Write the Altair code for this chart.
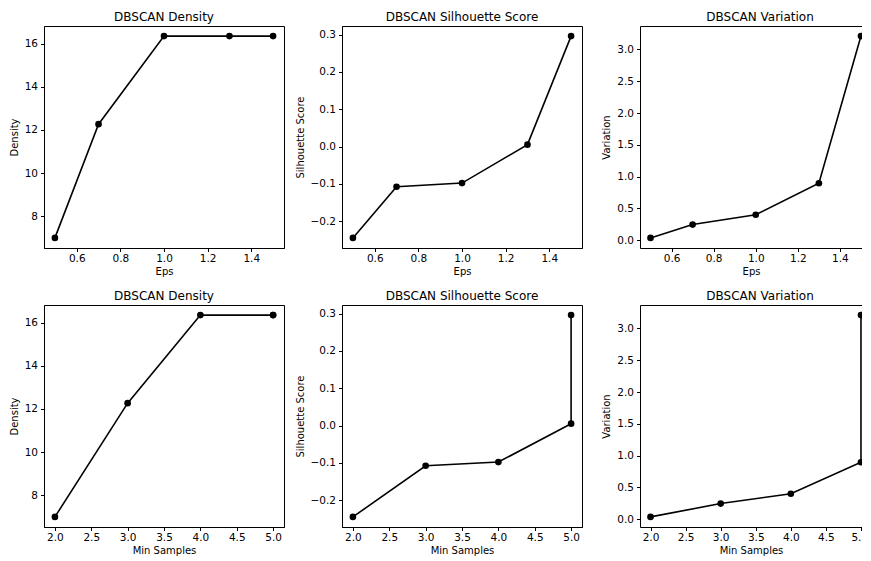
import altair as alt
import pandas as pd

eps = [0.5, 0.7, 1.0, 1.3, 1.5]
min_samples = [2, 3, 4, 5, 5]
density = [7.0, 12.27, 16.35, 16.35, 16.35]
silhouette = [-0.245, -0.108, -0.098, 0.005, 0.296]
variation = [0.035, 0.245, 0.40, 0.895, 3.21]

eps_ticks = [0.6, 0.8, 1.0, 1.2, 1.4]
ms_ticks = [2.0, 2.5, 3.0, 3.5, 4.0, 4.5, 5.0]
density_ticks = [8, 10, 12, 14, 16]
sil_ticks = [-0.2, -0.1, 0.0, 0.1, 0.2, 0.3]
var_ticks = [0.0, 0.5, 1.0, 1.5, 2.0, 2.5, 3.0]

FONT = "DejaVu Sans"
W, H = 240, 222
W_CUT = 222      # right column is cut by the page edge in the reference
CUT_FRAC = 0.959  # share of the padded x-range that stays visible there


def pad_domain(vals, frac=0.05):
    lo, hi = min(vals), max(vals)
    d = (hi - lo) * frac
    return [lo - d, hi + d]


def panel(xv, yv, xtitle, ytitle, title, xticks, yticks, xfmt, yfmt, cut=False):
    df = pd.DataFrame({"x": xv, "y": yv, "i": list(range(len(xv)))})
    xd = pad_domain(xv)
    width = W
    axis_kw = {}
    title_kw = {}
    if cut:
        xd = [xd[0], xd[0] + (xd[1] - xd[0]) * CUT_FRAC]
        width = W_CUT
        title_kw = {"dx": (W - W_CUT) / 2}
        last = xticks[-1]
        if last > xd[1] - (xd[1] - xd[0]) * 0.03:
            axis_kw = {
                "labelExpr": f"datum.value == {last} ? '{str(last)[:2]}' : datum.label",
                "labelAlign": {"condition": {"test": f"datum.value == {last}", "value": "right"}, "value": "center"},
            }
    xscale = alt.Scale(domain=xd, nice=False, zero=False)
    yscale = alt.Scale(domain=pad_domain(yv), nice=False, zero=False)
    yenc = alt.Y("y:Q", scale=yscale, axis=alt.Axis(values=yticks, format=yfmt, title=ytitle))
    base = alt.Chart(df)
    line = base.mark_line(
        color="black",
        strokeWidth=1.6,
        clip=True,
        point=alt.OverlayMarkDef(filled=True, size=44, color="black", opacity=1, clip=True),
    ).encode(
        x=alt.X("x:Q", scale=xscale, axis=alt.Axis(values=xticks, format=xfmt, title=xtitle, **axis_kw)),
        y=yenc,
        order="i:Q",
    )
    t = alt.TitleParams(title, **title_kw)
    if not cut:
        return line.properties(width=width, height=H, title=t)
    top = base.mark_point(opacity=0, clip=True).encode(
        x=alt.X("x:Q", scale=xscale, axis=alt.Axis(orient="top", labels=False, ticks=False, title=None, domain=True)),
        y=yenc,
    )
    return (
        alt.layer(line, top)
        .resolve_axis(x="independent")
        .properties(width=width, height=H, title=t, view=alt.ViewBackground(strokeOpacity=0))
    )


charts = [
    panel(eps, density, "Eps", "Density", "DBSCAN Density", eps_ticks, density_ticks, ".1f", "d"),
    panel(eps, silhouette, "Eps", "Silhouette Score", "DBSCAN Silhouette Score", eps_ticks, sil_ticks, ".1f", ".1f"),
    panel(eps, variation, "Eps", "Variation", "DBSCAN Variation", eps_ticks, var_ticks, ".1f", ".1f", cut=True),
    panel(min_samples, density, "Min Samples", "Density", "DBSCAN Density", ms_ticks, density_ticks, ".1f", "d"),
    panel(min_samples, silhouette, "Min Samples", "Silhouette Score", "DBSCAN Silhouette Score", ms_ticks, sil_ticks, ".1f", ".1f"),
    panel(min_samples, variation, "Min Samples", "Variation", "DBSCAN Variation", ms_ticks, var_ticks, ".1f", ".1f", cut=True),
]

chart = (
    alt.concat(*charts, columns=3, spacing={"row": 57, "column": 58}, bounds="flush", align="each")
    .resolve_scale(x="independent", y="independent")
    .properties(padding={"left": 0, "top": 2, "right": 0, "bottom": 0}, background="white")
    .configure_view(stroke="black", strokeWidth=1)
    .configure_axis(
        grid=False,
        domainColor="black",
        tickColor="black",
        labelColor="black",
        titleColor="black",
        labelFont=FONT,
        titleFont=FONT,
        labelFontSize=10.5,
        titleFontSize=10,
        titleFontWeight="normal",
        tickSize=3.5,
        labelPadding=2,
        titlePadding=2,
    )
    .configure_axisY(labelPadding=3, titlePadding=5)
    .configure_title(font=FONT, fontSize=12, fontWeight="normal", color="black", offset=2)
)

chart.save("out.html", embed_options={"renderer": "svg", "actions": False})
